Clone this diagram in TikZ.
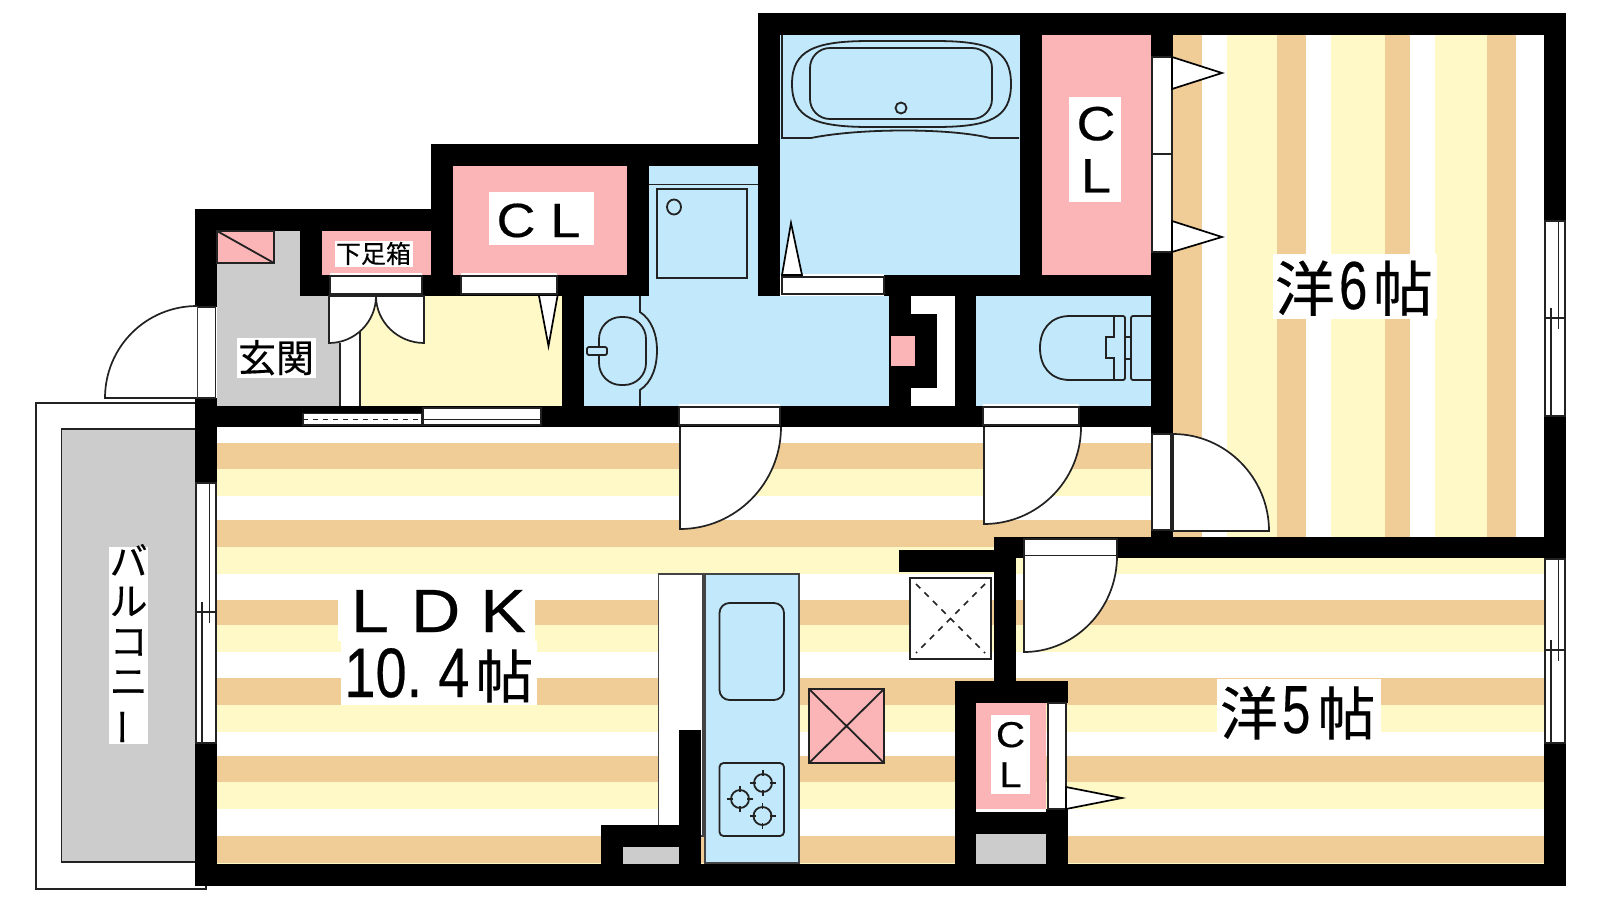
\documentclass[tikz,border=0pt]{standalone}
\usepackage{fontspec}
\newfontfamily\jp[FakeBold=0.3]{Noto Sans CJK JP}
\newfontfamily\lat[FakeBold=0.4]{Liberation Sans}
\newcommand{\fsz}[1]{\fontsize{#1}{#1}\selectfont}
\newcommand{\dgsix}[1]{\raisebox{2pt}{\scalebox{.75}[1]{\lat\fsz{68}#1}}}
\newcommand{\wid}[1]{\scalebox{1.12}[1]{#1}}
\definecolor{tan}{HTML}{F0CC96}
\definecolor{ylw}{HTML}{FFF9C8}
\definecolor{blu}{HTML}{C2E9FB}
\definecolor{pnk}{HTML}{FBB5B7}
\definecolor{gry}{HTML}{CCCCCC}
\definecolor{ink}{HTML}{222222}
\tikzset{
  ln/.style={draw=ink,line width=1.8pt},
  thinln/.style={draw=ink,line width=1.3pt},
  bandbox/.style={fill=white,draw=ink,line width=1.4pt},
  doorleaf/.style={fill=white,draw=ink,line width=1.7pt},
  tri/.style={fill=white,draw=black,line width=1.7pt,line join=miter},
  lab/.style={inner sep=0pt,outer sep=0pt,anchor=base west,text=black}
}
% vertical window in a wall: left x, top, middle, bottom
\newcommand{\winv}[4]{%
  \fill[white] (#1-1,#2) rectangle (#1+21,#4);
  \draw[thinln] (#1,#2) rectangle (#1+20,#4);
  \draw[thinln] (#1+13.5,#2) -- (#1+13.5,#3+11);
  \draw[thinln] (#1+6,#4) -- (#1+6,#3-10);
  \draw[thinln] (#1,#3) -- (#1+20,#3);
}
\newcommand{\burner}[2]{%
  \draw[ink,line width=1.8pt] (#1,#2) circle[radius=9pt];
  \foreach \a/\b in {0/1,0/-1,1/0,-1/0}{\draw[ink,line width=1.5pt] (#1+7*\a,#2+7*\b) -- (#1+13*\a,#2+13*\b);}
}
\begin{document}
\begin{tikzpicture}[x=1pt,y=-1pt]
\useasboundingbox (0,0) rectangle (1600,900);
\fill[white] (0,0) rectangle (1600,900);

% horizontal stripes: LDK and Western room 5
\foreach \t in {443,520,600,678,756,836}{
  \fill[tan] (217,\t) rectangle (1544,\t+26.5);
}
\foreach \t in {469,547,625,705,782}{
  \fill[ylw] (217,\t) rectangle (1544,\t+26.5);
}
\fill[ylw] (217,863) rectangle (1544,865);

% Western room 6 with vertical stripes
\fill[white] (1173,35) rectangle (1544,537);
\foreach \a/\b in {1173/1202,1277/1306,1385/1410,1487/1516}{\fill[tan] (\a,35) rectangle (\b,537);}
\foreach \a/\b in {1227/1277,1331/1385,1435/1487}{\fill[ylw] (\a,35) rectangle (\b,537);}

% balcony
\draw[ln,fill=white] (36,403) rectangle (206,889);
\draw[ln,fill=gry] (61.5,429) rectangle (196,862);

% room fills
\fill[gry] (217,231) -- (300,231) -- (300,296) -- (340,296) -- (340,406) -- (217,406) -- cycle;
\fill[ylw] (361,296) rectangle (562,406);
\fill[blu] (780,35) rectangle (1020,275);
\fill[blu] (649,166) rectangle (758,296);
\fill[blu] (584,296) rectangle (889,406);
\fill[blu] (976,296) rectangle (1151,406);
\fill[white] (911,296) rectangle (955,406);
\fill[pnk] (453,166) rectangle (627,275);
\fill[pnk] (1042,35) rectangle (1151,275);
\fill[pnk] (322,231) rectangle (431,275);
\fill[white] (976,809) rectangle (1046,812);
\fill[pnk] (976,703) rectangle (1046,809);
\fill[gry] (976,834) rectangle (1046,864);
\fill[gry] (623,847) rectangle (679,864);

% kitchen (under the walls)
\draw[ln,draw=ink!85,fill=white] (658.5,574) rectangle (703,836);
\draw[ln,draw=ink!85,fill=blu] (705,574) rectangle (799,863);

% walls
\foreach \a/\b/\c/\d in {
  758/13/1566/35, 1544/13/1566/886, 195/864/1566/886, 195/209/217/886,
  195/209/453/231, 431/144/453/296, 431/144/780/166, 758/13/780/296,
  627/144/649/296, 300/231/322/296, 300/275/649/296, 562/296/584/406,
  195/406/1173/427, 1020/35/1042/275, 884/275/1173/296, 1151/13/1173/558,
  889/296/911/406, 911/314/937/388, 955/296/976/406,
  994/537/1566/558, 899/550/994/572, 994/537/1016/681,
  955/681/1068/703, 955/681/976/864, 1046/809/1068/864, 976/812/1068/834,
  601/825/701/847, 601/825/623/864, 679/730/701/864}{
  \fill[black] (\a,\b) rectangle (\c,\d);
}
\fill[pnk] (891,336) rectangle (915,366);

% small pink box in the entrance
\draw[ln,fill=pnk] (217,231) rectangle (274,263);
\draw[ln] (217,231) -- (274,263);

% doors bands
\fill[white] (195,307) rectangle (217,398);
\draw[bandbox] (197,307) rectangle (215.5,398);
\fill[white] (330,273) rectangle (422,276);
\draw[bandbox] (330,276) rectangle (422,294);
\fill[white] (461,273) rectangle (557,276);
\draw[bandbox] (461,276) rectangle (557,294);
\fill[white] (782,274) rectangle (884,277);
\draw[bandbox] (782,277) rectangle (884,294);
\fill[white] (679,404) rectangle (780,407);
\draw[bandbox] (679,407) rectangle (780,425);
\fill[white] (983,404) rectangle (1079,407);
\draw[bandbox] (983,407) rectangle (1079,425);
\draw[bandbox] (1024,539) rectangle (1117,556);
\draw[bandbox] (1152,434) rectangle (1171,530);
\draw[bandbox] (1152,57) rectangle (1172,154);
\draw[bandbox] (1152,154) rectangle (1172,252);
\draw[bandbox] (1048,703) rectangle (1066,809);

% sliding door of the entrance wall
\draw[bandbox] (303,413.5) rectangle (422,425);
\draw[ink,line width=1.8pt,dash pattern=on 5pt off 5pt] (303,419.5) -- (422,419.5);
\draw[bandbox] (423,408) rectangle (541,425);
\draw[ink,line width=1.4pt] (423,419.5) -- (541,419.5);
\fill[white] (340,343) rectangle (360,406);
\draw[ln] (340,343) -- (340,406) (360,320) -- (360,406);

% door leaves
\draw[doorleaf] (197,306) .. controls (146,306) and (105,347) .. (105,398) -- (197,398);
\draw[doorleaf] (329,296) -- (329,343) .. controls (355,343) and (376,322) .. (376,296) -- cycle;
\draw[doorleaf] (424,296) -- (424,343) .. controls (398,343) and (376,322) .. (376,296) -- cycle;
\draw[doorleaf] (680,427) -- (680,529) .. controls (736,529) and (781,483) .. (781,427);
\draw[doorleaf] (984,427) -- (984,524) .. controls (1037.5,524) and (1081,480.5) .. (1081,427);
\draw[doorleaf] (1173,434) .. controls (1226,434) and (1269,478) .. (1269,531) -- (1173,531) -- cycle;
\draw[doorleaf] (1024,556) -- (1024,652) .. controls (1075,652) and (1117,609) .. (1117,556);

% hinged closet door triangles
\draw[tri] (539,296) -- (548.5,346) -- (557.5,296);
\draw[tri] (782,275) -- (791,223) -- (802,275) -- cycle;
\draw[tri] (1172,57) -- (1222,73) -- (1172,89) -- cycle;
\draw[tri] (1172,221) -- (1222,237) -- (1172,252) -- cycle;
\draw[tri] (1066,787) -- (1122,798) -- (1066,809) -- cycle;

% windows
\winv{196}{483}{612}{743}
\winv{1545}{221}{318}{416}
\winv{1545}{559}{650}{743}

% bath
\draw[ln] (782,35) -- (782,138) -- (811,138) .. controls (860,128) and (950,128) .. (990,138) -- (1019,138);
\draw[ln] (792,84) .. controls (792,50) and (815,41) .. (870,41) -- (935,41) .. controls (990,41) and (1011,50) .. (1011,84) .. controls (1011,118) and (990,127) .. (935,127) -- (870,127) .. controls (815,127) and (792,118) .. (792,84) -- cycle;
\draw[ln,rounded corners=20pt] (810,48) rectangle (992,119);
\draw[ln] (901,108) circle[radius=5.5pt];

% washer
\draw[ln] (649,184.5) -- (758,184.5);
\draw[ln] (657,189) rectangle (747,278);
\draw[ln] (674,207) ellipse[x radius=7pt,y radius=7.5pt];

% basin
\draw[ln] (640,296) -- (640,312) .. controls (652,320) and (657,335) .. (657,350) .. controls (657,367) and (652,382) .. (640,390) -- (640,406);
\draw[ln,rounded corners=22pt] (599,317) rectangle (646,385);
\draw[ln,fill=blu,rounded corners=2pt] (587,347) rectangle (607,355);

% toilet
\draw[ln] (1114,316) -- (1070,316) .. controls (1050,316) and (1040,330) .. (1040,348) .. controls (1040,366) and (1050,380) .. (1070,380) -- (1114,380);
\draw[ln] (1114,316) -- (1114,337) -- (1106,337) -- (1106,358) -- (1114,358) -- (1114,380);
\draw[ln,rounded corners=2pt] (1114,316) -- (1125,316) -- (1125,380) -- (1114,380);
\draw[ln,rounded corners=2pt] (1151,316) -- (1131,316) -- (1131,380) -- (1151,380);
\draw[ln] (1125,337) rectangle (1131,359);

% kitchen fixtures
\draw[ln,rounded corners=10pt] (719.5,603) rectangle (784,700);
\draw[ln,rounded corners=4pt] (719.5,763) rectangle (784,836);
\burner{763}{783}
\burner{740}{799}
\burner{762.5}{816}

% refrigerator space
\draw[ln,fill=white] (910,578) rectangle (991,659);
\draw[ink,line width=1.7pt,dash pattern=on 6pt off 6pt] (916,584) -- (985,653) (985,584) -- (916,653);

% pink duct
\draw[ln,fill=pnk] (809,689) rectangle (884,763);
\draw[ln] (809,689) -- (884,763) (884,689) -- (809,763);

% labels
\fill[white] (109,547) rectangle (148,744);
\node[inner sep=0pt,align=center,font=\jp\fontsize{38}{40}\selectfont] (balc) at (128.6,645) {バ\\ル\\コ\\ニ\\\rotatebox[origin=c]{90}{ー}};

\fill[white] (237,338) rectangle (316,378);
\node[lab,font=\jp\fsz{38}] (genkan) at (238,372) {玄関};

\fill[white] (335,241) rectangle (413,267);
\node[lab,font=\jp\fsz{25}] (shoe) at (336,263) {下足箱};

\fill[white] (489,192) rectangle (594,245);
\node[lab,font=\lat\fsz{48}] (cl1) at (496.6,237) {\wid{C}\hspace{15pt}\wid{L}};

\fill[white] (1069,97) rectangle (1121,202);
\node[inner sep=0pt,align=center,font=\lat\fontsize{48}{52}\selectfont] (cl2) at (1096,149.5) {\wid{C}\\\wid{L}};

\fill[white] (991,715) rectangle (1030,794);
\node[inner sep=0pt,align=center,font=\lat\fontsize{36}{40}\selectfont] (cl3) at (1010.5,754.5) {\wid{C}\\\wid{L}};

\fill[white] (338,590) rectangle (535,641);
\fill[white] (341,641) rectangle (537,705);
\node[lab,font=\lat\fsz{61}] (ldk) at (351,632) {\wid{L}\hspace{22pt}\wid{D}\hspace{20pt}\wid{K}};
\node[lab] (ldksize) at (344.4,698) {\raisebox{1pt}{\scalebox{.8}[1]{\lat\fsz{70}10.}}\hspace{16pt}\raisebox{1pt}{\scalebox{.8}[1]{\lat\fsz{70}4}}\hspace{6pt}{\jp\fsz{58}帖}};

\fill[white] (1273,254) rectangle (1437,319);
\node[lab] (r6) at (1275,311) {{\jp\fsz{60}洋}\hspace{4pt}\dgsix{6}\hspace{5.6pt}{\jp\fsz{60}帖}};

\fill[white] (1217,679) rectangle (1381,741);
\node[lab] (r5) at (1220,735) {{\jp\fsz{58}洋}\hspace{4pt}\dgsix{5}\hspace{7pt}{\jp\fsz{58}帖}};
\end{tikzpicture}
\end{document}
